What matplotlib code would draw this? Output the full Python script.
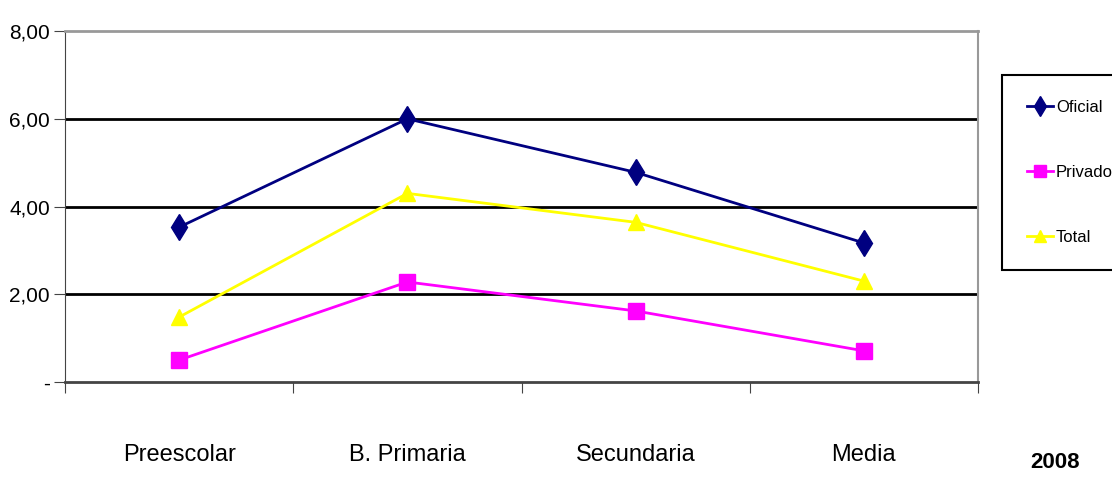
import matplotlib.pyplot as plt
from matplotlib.ticker import FuncFormatter

plt.rcParams['font.family'] = ['Liberation Sans', 'DejaVu Sans']

niveles = ['Preescolar', 'B. Primaria', 'Secundaria', 'Media']
oficial = [3.53, 6.00, 4.78, 3.17]
privado = [0.50, 2.28, 1.62, 0.71]
total = [1.48, 4.30, 3.64, 2.30]

fig = plt.figure(figsize=(11.12, 4.82), dpi=100)
ax = fig.add_axes([0.0585, 0.2075, 0.821, 0.728])

x = range(len(niveles))
ax.plot(x, oficial, color='#000080', marker='d', markersize=13, lw=2, label='Oficial')
ax.plot(x, privado, color='#FF00FF', marker='s', markersize=11, lw=2, label='Privado')
ax.plot(x, total, color='#FFFF00', marker='^', markersize=11, lw=2, label='Total')

ax.set_xlim(-0.5, 3.5)
ax.set_ylim(0, 8)
ax.set_yticks([0, 2, 4, 6, 8])
ax.yaxis.set_major_formatter(FuncFormatter(lambda v, p: '-' if v == 0 else f'{v:.2f}'.replace('.', ',')))
for yv in [2, 4, 6]:
    ax.axhline(yv, color='black', lw=2, zorder=0)

ax.set_xticks([-0.5, 0.5, 1.5, 2.5, 3.5])
ax.set_xticklabels([])
ax.tick_params(axis='x', length=8, direction='out', color='#444444')
ax.tick_params(axis='y', length=8, direction='out', labelsize=15, pad=3, color='#444444')
for i, n in enumerate(niveles):
    ax.text(i, -1.66, n, ha='center', va='center', fontsize=17)
fig.text(0.949, 0.041, '2008', ha='center', va='center', fontsize=16, fontweight='bold')

ax.spines['top'].set_color('#999999')
ax.spines['top'].set_linewidth(2)
ax.spines['right'].set_color('#999999')
ax.spines['right'].set_linewidth(1.5)
ax.spines['left'].set_color('#444444')
ax.spines['bottom'].set_color('#444444')
ax.spines['bottom'].set_linewidth(2)

leg = ax.legend(loc='upper left', bbox_to_anchor=(1.026, 0.875), borderaxespad=0, fontsize=12,
                frameon=True, fancybox=False, edgecolor='black', labelspacing=3.0,
                handlelength=1.6, handletextpad=0.15, borderpad=1.5, framealpha=1,
                markerscale=0.8)
leg.get_frame().set_linewidth(1.5)

fig.savefig('out.png', dpi=100)
